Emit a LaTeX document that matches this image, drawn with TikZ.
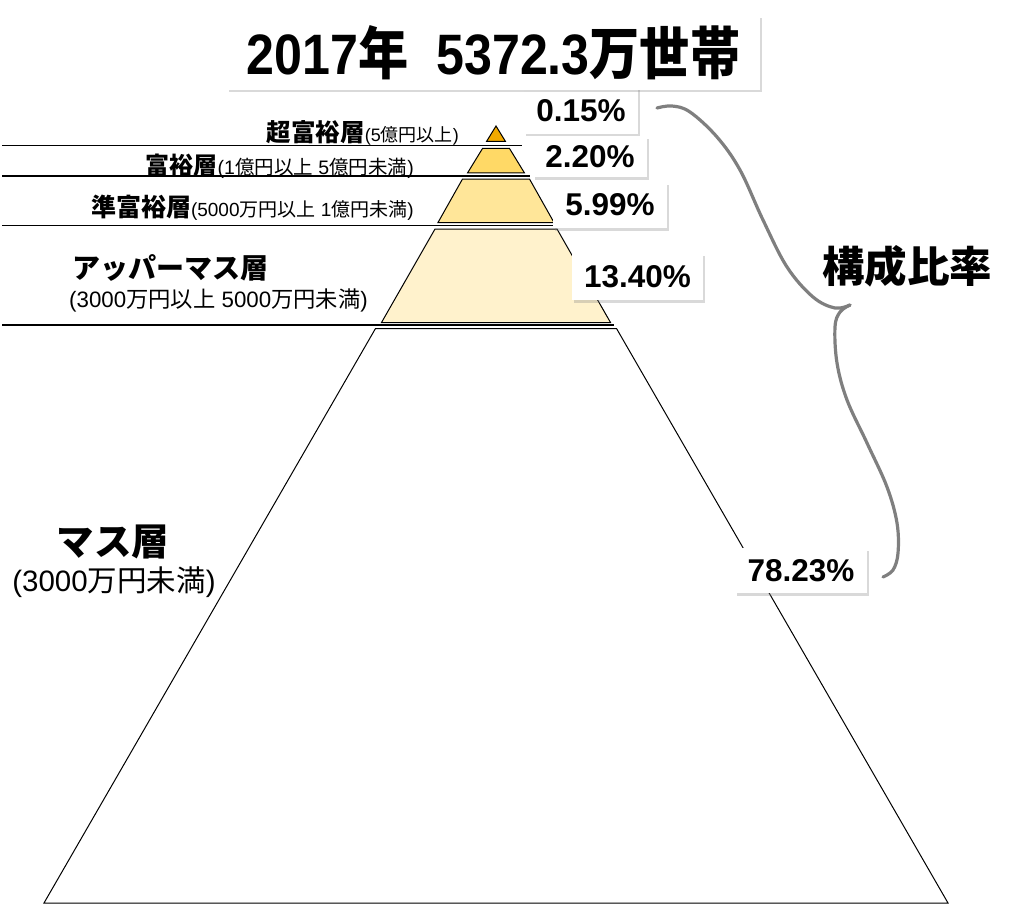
\documentclass[tikz,border=0pt]{standalone}
\usepackage{fontspec}
\setmainfont{Liberation Sans}
\newfontfamily\jp{Noto Sans CJK JP}
\usetikzlibrary{shadows}
\definecolor{lay1}{HTML}{F2AA00}
\definecolor{lay2}{HTML}{FFD966}
\definecolor{lay3}{HTML}{FFE699}
\definecolor{lay4}{HTML}{FFF2CC}
\definecolor{bracegray}{HTML}{7F7F7F}
\newcommand\J[1]{{\jp #1}}
\newcommand\fs[1]{\fontsize{#1}{#1}\selectfont}
\begin{document}
\begin{tikzpicture}[x=1pt,y=-1pt,
  layer/.style={draw=black, line width=1pt, line join=miter},
  sepline/.style={draw=black, line width=1.8pt},
  pbox/.style={fill=white, inner sep=0pt, drop shadow={shadow xshift=1.5pt, shadow yshift=-2.5pt, opacity=0.3}},
  pct/.style={pbox, font=\bfseries\fs{31.5}},
  lab/.style={inner sep=0pt},
  bracestyle/.style={draw=bracegray, line width=3.2pt, line cap=round, line join=round}]
\useasboundingbox (0,0) rectangle (1024,904);
% pyramid layers
\draw[layer, fill=white] (375.5,328.5) -- (616.5,328.5) -- (948,903) -- (44,903) -- cycle;
\draw[layer, fill=lay4] (435,229) -- (557,229) -- (610.5,322.5) -- (381.5,322.5) -- cycle;
\draw[layer, fill=lay3] (462.5,179) -- (529.5,179) -- (554,222.5) -- (438,222.5) -- cycle;
\draw[layer, fill=lay2] (482.5,148.5) -- (509.5,148.5) -- (524.5,173) -- (467.5,173) -- cycle;
\draw[layer, fill=lay1] (496,126) -- (505.5,141.5) -- (486.5,141.5) -- cycle;
% separator lines
\draw[sepline] (2,145.5) -- (522,145.5);
\draw[sepline] (2,176) -- (530,176);
\draw[sepline] (2,225.5) -- (554,225.5);
\draw[sepline] (2,325) -- (614,325);
% percentage boxes
\node[pct, minimum width=114pt, minimum height=46pt] (p1) at (581,111) {0.15\%};
\node[pbox, minimum width=533pt, minimum height=74pt] (title) at (493.5,53)
  {\scalebox{0.88}[1]{\fs{57}\bfseries 2017\J{年}\ \ 5372.3\J{万世帯}}};
\node[pct, minimum width=114pt, minimum height=40pt] (p2) at (590,157) {2.20\%};
\node[pct, minimum width=114pt, minimum height=46pt] (p3) at (610,205) {5.99\%};
\node[pct, minimum width=131pt, minimum height=47pt] (p4) at (637.5,276.5) {13.40\%};
\node[pct, minimum width=132pt, minimum height=45pt] (p5) at (801,570.5) {78.23\%};
% brace
\draw[bracestyle] plot[smooth, tension=0.6] coordinates {(657,108) (672,106) (690,112) (717,137) (740,170) (763,220) (787,267) (813,297) (835,308) (850,305)};
\draw[bracestyle] plot[smooth, tension=0.6] coordinates {(850,305) (840,312) (835,327) (837,363) (847,400) (867,443) (887,487) (897,523) (898,553) (893,570) (883,577)};
\node[lab] (ratio) at (907,266) {\fs{42.5}\bfseries\J{構成比率}};
% left labels
\node[lab, anchor=base east] (l1) at (459,141.5) {\fs{24.5}\bfseries\J{超富裕層}\mdseries\fs{18}(5\J{億円以上})};
\node[lab, anchor=base east] (l2) at (414,175) {\fs{24}\bfseries\J{富裕層}\mdseries\fs{19.5}(1\J{億円以上}\ 5\J{億円未満})};
\node[lab, anchor=base east] (l3) at (414,216) {\fs{25}\bfseries\J{準富裕層}\mdseries\fs{19}(5000\J{万円以上}\ 1\J{億円未満})};
\node[lab, anchor=base west] (l4) at (72,278) {\fs{28}\bfseries\J{アッパーマス層}};
\node[lab, anchor=base west] (l4b) at (69,307) {\fs{22.3}(3000\J{万円以上}\ 5000\J{万円未満})};
\node[lab, anchor=base] (l5) at (113,555) {\fs{37.5}\bfseries\J{マス層}};
\node[lab, anchor=base] (l5b) at (114,591) {\fs{29.5}(3000\J{万円未満})};
\end{tikzpicture}
\end{document}
